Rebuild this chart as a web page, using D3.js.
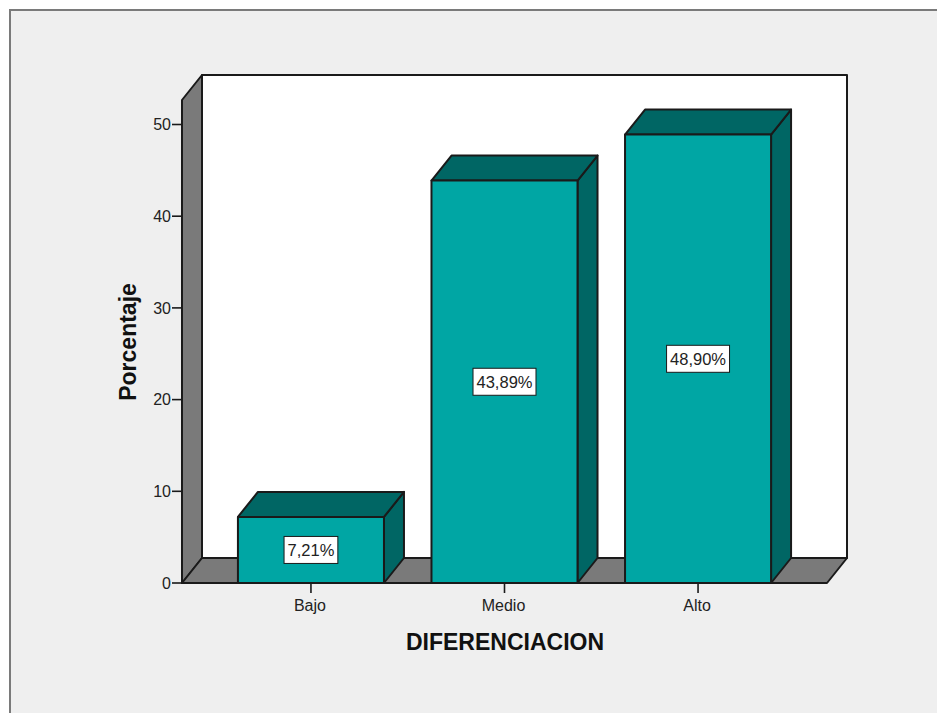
<!DOCTYPE html>
<html>
<head>
<meta charset="utf-8">
<script src="https://cdn.jsdelivr.net/npm/d3@7"></script>
<style>
  html, body { margin: 0; padding: 0; background: #fff; overflow: hidden; }
  svg { display: block; }
  text { font-family: "Liberation Sans", Arial, sans-serif; fill: #222; }
</style>
</head>
<body>
<svg id="chart" width="937" height="713"></svg>
<script>
// Porcentaje por nivel de diferenciación
const categories = ["Bajo", "Medio", "Alto"];
const values = [7.21, 43.89, 48.90];
const valueLabels = ["7,21%", "43,89%", "48,90%"];
const yTicks = [0, 10, 20, 30, 40, 50];

const svg = d3.select("#chart");

const plotLeft = 182, plotRight = 827, plotBottom = 583, plotTop = 100;
const depthX = 20, depthY = 25;
const ink = "#1a1a1a";

const y = d3.scaleLinear().domain([0, 50]).range([plotBottom, 124.5]);
const x = d3.scaleBand().domain(categories).range([plotLeft, plotRight])
  .paddingInner(0.2455).paddingOuter(0.289);

const poly = (pts, fill, width = 2) => svg.append("polygon")
  .attr("points", pts.map(p => p.join(",")).join(" "))
  .attr("fill", fill).attr("stroke", ink)
  .attr("stroke-width", width).attr("stroke-linejoin", "round");

// Outer panel
svg.append("rect").attr("x", 10).attr("y", 10)
  .attr("width", 940).attr("height", 720)
  .attr("fill", "#efefef").attr("stroke", "#7a7a7a").attr("stroke-width", 2);

// 3D walls and floor
const wallGrey = "#7a7a7a";
poly([[plotLeft + depthX, plotTop - depthY], [plotRight + depthX, plotTop - depthY],
      [plotRight + depthX, plotBottom - depthY], [plotLeft + depthX, plotBottom - depthY]], "#ffffff");
poly([[plotLeft, plotTop], [plotLeft + depthX, plotTop - depthY],
      [plotLeft + depthX, plotBottom - depthY], [plotLeft, plotBottom]], wallGrey);
poly([[plotLeft, plotBottom], [plotLeft + depthX, plotBottom - depthY],
      [plotRight + depthX, plotBottom - depthY], [plotRight, plotBottom]], wallGrey);

// Y axis ticks and labels
const yAxis = svg.append("g").selectAll("g").data(yTicks).join("g")
  .attr("transform", d => `translate(0,${y(d)})`);
yAxis.append("line").attr("x1", plotLeft - 10).attr("x2", plotLeft)
  .attr("stroke", ink).attr("stroke-width", 1.6);
yAxis.append("text").attr("x", plotLeft - 11).attr("dy", "0.36em")
  .attr("text-anchor", "end").attr("font-size", 16).text(d => d);

// Bars: side, top, then front face
const barFront = "#00a6a4", barShade = "#006664";
categories.forEach((c, i) => {
  const x0 = x(c), x1 = x0 + x.bandwidth(), yt = y(values[i]);
  poly([[x1, yt], [x1 + depthX, yt - depthY], [x1 + depthX, plotBottom - depthY], [x1, plotBottom]], barShade);
  poly([[x0, yt], [x0 + depthX, yt - depthY], [x1 + depthX, yt - depthY], [x1, yt]], barShade);
  poly([[x0, yt], [x1, yt], [x1, plotBottom], [x0, plotBottom]], barFront);

  // Value label centred on the front face
  const cx = (x0 + x1) / 2, cy = (yt + plotBottom) / 2;
  const label = svg.append("text").attr("x", cx).attr("y", cy + 0.5).attr("dy", "0.36em")
    .attr("text-anchor", "middle").attr("font-size", 16.5).text(valueLabels[i]);
  const boxW = label.node().getComputedTextLength() + 7;
  svg.insert("rect", () => label.node())
    .attr("x", cx - boxW / 2).attr("y", cy - 13.5)
    .attr("width", boxW).attr("height", 27)
    .attr("fill", "#fff").attr("stroke", ink).attr("stroke-width", 1);
});

// Baseline and X axis ticks and labels
svg.append("line").attr("x1", plotLeft).attr("x2", plotRight)
  .attr("y1", plotBottom).attr("y2", plotBottom)
  .attr("stroke", ink).attr("stroke-width", 2);
categories.forEach(c => {
  const cx = x(c) + x.bandwidth() / 2;
  svg.append("line").attr("x1", cx).attr("x2", cx)
    .attr("y1", plotBottom).attr("y2", plotBottom + 10)
    .attr("stroke", ink).attr("stroke-width", 1.6);
  svg.append("text").attr("x", cx - 1).attr("y", 611)
    .attr("text-anchor", "middle").attr("font-size", 16).text(c);
});

// Axis titles
svg.append("text").attr("x", 505).attr("y", 650)
  .attr("text-anchor", "middle").attr("font-size", 23)
  .attr("font-weight", "bold").style("fill", "#111").text("DIFERENCIACION");
svg.append("text").attr("transform", "translate(135.5,342) rotate(-90)")
  .attr("text-anchor", "middle").attr("font-size", 23)
  .attr("font-weight", "bold").style("fill", "#111").text("Porcentaje");
</script>
</body>
</html>
